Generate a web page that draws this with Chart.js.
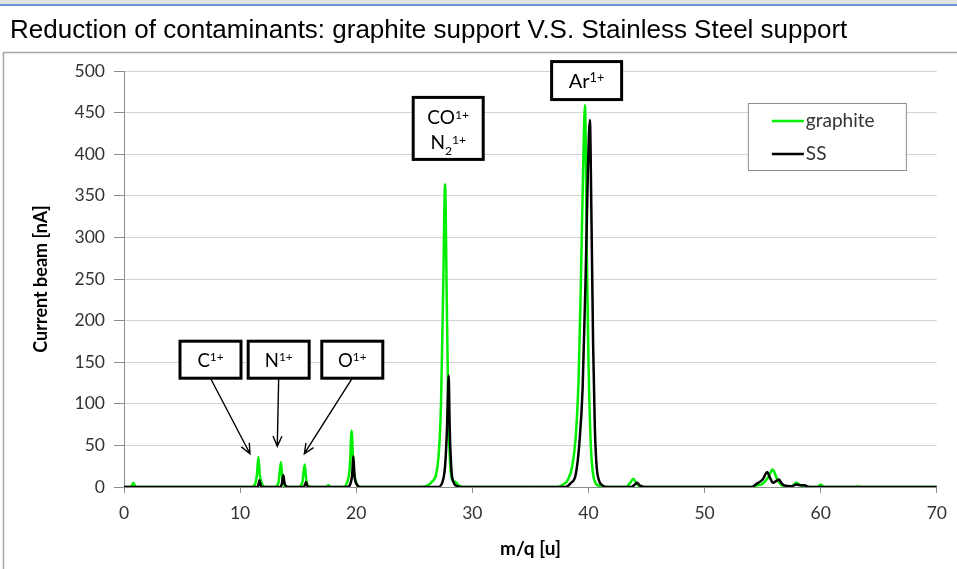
<!DOCTYPE html>
<html>
<head>
<meta charset="utf-8">
<script src="https://cdn.jsdelivr.net/npm/chart.js@4.4.1/dist/chart.umd.min.js"></script>
<style>
  html, body { margin: 0; padding: 0; background: #fff; }
  canvas { display: block; }
</style>
</head>
<body>
<canvas id="spectrumChart" width="957" height="569"></canvas>
<script>
// Spectrum: m/q [u] against current [nA]
const graphiteMz = [
  0, 0.6, 0.8, 1.0,
  11.0, 11.3, 11.45, 11.57, 11.7, 11.9, 12.2,
  13.0, 13.3, 13.52, 13.65, 13.85, 14.2,
  15.0, 15.35, 15.56, 15.7, 15.9, 16.2,
  17.4, 17.6, 17.8,
  18.8, 19.2, 19.45, 19.6, 19.75, 20.0, 20.3,
  25.5, 26.0, 26.5, 27.0, 27.3, 27.5, 27.65, 27.8, 27.95, 28.1, 28.3, 28.55, 28.8, 29.2,
  37.3, 37.8, 38.2, 38.6, 38.9, 39.15, 39.35, 39.55, 39.7, 39.85, 40.0, 40.2, 40.4, 40.6, 41.0, 41.5,
  43.2, 43.6, 43.85, 44.1, 44.5,
  54.0, 54.5, 55.0, 55.5, 55.85, 56.2, 56.5, 56.8, 57.5, 57.9, 58.3, 58.8,
  59.7, 60.0, 60.3, 63.0, 63.2, 63.4, 70
];
const graphiteCurrent = [
  0, 0, 5, 0,
  0, 4, 15, 36, 14, 3, 0,
  0, 5, 30, 8, 1, 0,
  0, 5, 27, 8, 1, 0,
  0, 2, 0,
  0, 5, 25, 68, 25, 5, 0,
  0, 1, 6, 25, 100, 250, 364, 220, 80, 25, 8, 6, 2, 0,
  0, 3, 8, 25, 60, 130, 250, 390, 459, 290, 150, 50, 15, 5, 1, 0,
  0, 5, 10, 5, 0,
  0, 2, 4, 12, 21, 11, 4, 1, 1, 5, 2, 0,
  0, 3, 0, 0, 1, 0, 0
];

const ssMz = [
  0, 11.5, 11.58, 11.66, 11.75, 11.9,
  13.45, 13.6, 13.72, 13.82, 13.95, 14.2,
  15.45, 15.6, 15.68, 15.76, 15.95,
  19.25, 19.5, 19.65, 19.75, 19.85, 20.05, 20.35,
  27.0, 27.4, 27.65, 27.8, 27.96, 28.05, 28.2, 28.4, 28.7, 29.0,
  38.0, 38.5, 38.9, 39.2, 39.5, 39.75, 39.95, 40.12, 40.25, 40.4, 40.55, 40.7, 40.9, 41.2, 41.6,
  43.7, 44.0, 44.2, 44.4, 44.8,
  54.0, 54.5, 55.0, 55.4, 55.6, 55.9, 56.15, 56.4, 56.6, 56.85, 57.5, 57.9, 58.3, 58.6, 59.0, 70
];
const ssCurrent = [
  0, 0, 3, 8, 3, 0,
  0, 4, 14, 5, 1, 0,
  0, 3, 6, 2, 0,
  0, 4, 15, 37, 14, 3, 0,
  0, 5, 25, 65, 134, 70, 20, 5, 1, 0,
  0, 5, 15, 50, 120, 250, 380, 441, 330, 170, 70, 25, 8, 2, 0,
  0, 3, 5, 2, 0,
  0, 4, 9, 18, 12, 5, 7, 9, 5, 2, 1, 3, 2, 2, 0, 0
];

const seriesLabels = ['graphite', 'SS'];
const seriesColors = ['#00ee00', '#000000'];
const chartTitle = 'Reduction of contaminants: graphite support V.S. Stainless Steel support';

// Ion labels: box centre and arrow tip in data units
const ionBoxes = [
  { lines: [[['C', ''], ['1+', 'sup']]], x: 7.45, y: 153, w: 61, h: 37, size: 18.5, tip: [10.85, 40] },
  { lines: [[['N', ''], ['1+', 'sup']]], x: 13.32, y: 153, w: 61, h: 37, size: 18.5, tip: [13.2, 49] },
  { lines: [[['O', ''], ['1+', 'sup']]], x: 19.66, y: 153, w: 61, h: 37, size: 18.5, tip: [15.53, 40] },
  { lines: [[['CO', ''], ['1+', 'sup']], [['N', ''], ['2', 'sub'], ['1+', 'sup']]], x: 27.92, y: 431, w: 70, h: 62, size: 19 },
  { lines: [[['Ar', ''], ['1+', 'sup']]], x: 39.84, y: 488.5, w: 70, h: 38, size: 20 }
];

function drawRich(ctx, parts, cx, baseline, size) {
  const pieces = parts.map(([t, kind]) => {
    const s = kind ? size * 0.64 : size;
    ctx.font = s + 'px Lato';
    return { t, kind, s, w: ctx.measureText(t).width };
  });
  const total = pieces.reduce((a, p) => a + p.w, 0);
  let x = cx - total / 2;
  pieces.forEach(p => {
    ctx.font = p.s + 'px Lato';
    const dy = p.kind === 'sup' ? -size * 0.3 : p.kind === 'sub' ? size * 0.27 : 0;
    ctx.fillText(p.t, x, baseline + dy);
    x += p.w;
  });
}

function drawArrow(ctx, x1, y1, x2, y2) {
  const ang = Math.atan2(y2 - y1, x2 - x1);
  const len = 11;
  ctx.beginPath();
  ctx.moveTo(x1, y1);
  ctx.lineTo(x2, y2);
  ctx.moveTo(x2 - len * Math.cos(ang - 0.42), y2 - len * Math.sin(ang - 0.42));
  ctx.lineTo(x2, y2);
  ctx.lineTo(x2 - len * Math.cos(ang + 0.42), y2 - len * Math.sin(ang + 0.42));
  ctx.stroke();
}

const decorPlugin = {
  id: 'decor',
  beforeDraw(chart) {
    const ctx = chart.ctx;
    ctx.save();
    ctx.fillStyle = '#e4e4e4';
    ctx.fillRect(0, 0, chart.width, 4);
    ctx.fillStyle = '#6d97d4';
    ctx.fillRect(0, 4, chart.width, 2);
    ctx.fillStyle = '#000';
    ctx.font = '26px "Liberation Sans"';
    ctx.textBaseline = 'alphabetic';
    ctx.fillText(chartTitle, 10, 38);
    ctx.strokeStyle = '#a6a6a6';
    ctx.lineWidth = 1.5;
    ctx.strokeRect(3.5, 52.5, chart.width + 20, chart.height);
    ctx.restore();
  },
  afterDatasetsDraw(chart) {
    const ctx = chart.ctx;
    const xs = chart.scales.x, ys = chart.scales.y;
    const area = chart.chartArea;
    ctx.save();
    ctx.textBaseline = 'alphabetic';
    ionBoxes.forEach(b => {
      const cx = xs.getPixelForValue(b.x), cy = ys.getPixelForValue(b.y);
      const left = cx - b.w / 2, top = cy - b.h / 2;
      if (b.tip) {
        ctx.strokeStyle = '#000';
        ctx.lineWidth = 1.4;
        drawArrow(ctx, cx, top + b.h, xs.getPixelForValue(b.tip[0]), ys.getPixelForValue(b.tip[1]));
      }
      ctx.fillStyle = '#fff';
      ctx.fillRect(left, top, b.w, b.h);
      ctx.strokeStyle = '#000';
      ctx.lineWidth = 3;
      ctx.strokeRect(left, top, b.w, b.h);
      ctx.fillStyle = '#000';
      if (b.lines.length === 1) {
        drawRich(ctx, b.lines[0], cx, cy + b.size * 0.38, b.size);
      } else {
        drawRich(ctx, b.lines[0], cx, cy - 4, b.size);
        drawRich(ctx, b.lines[1], cx, cy + 21, b.size);
      }
    });

    // legend box inside the plot
    const lx = area.right - 189, ly = area.top + 32, lw = 158, lh = 67;
    ctx.fillStyle = '#fff';
    ctx.fillRect(lx, ly, lw, lh);
    ctx.strokeStyle = '#8c8c8c';
    ctx.lineWidth = 1;
    ctx.strokeRect(lx + 0.5, ly + 0.5, lw, lh);
    ctx.font = '19px Lato';
    ctx.textBaseline = 'middle';
    chart.data.datasets.forEach((ds, i) => {
      const y = ly + 18 + i * 33;
      ctx.strokeStyle = ds.borderColor;
      ctx.lineWidth = 2.5;
      ctx.beginPath();
      ctx.moveTo(lx + 24, y);
      ctx.lineTo(lx + 56, y);
      ctx.stroke();
      ctx.fillStyle = '#333';
      ctx.fillText(ds.label, lx + 58, y);
    });
    ctx.restore();
  }
};

const toPoints = (xs, ys) => xs.map((x, i) => ({ x, y: ys[i] }));

new Chart(document.getElementById('spectrumChart').getContext('2d'), {
  type: 'line',
  data: {
    datasets: [
      {
        label: seriesLabels[0],
        data: toPoints(graphiteMz, graphiteCurrent),
        borderColor: seriesColors[0],
        borderWidth: 2.5,
        pointRadius: 0,
        cubicInterpolationMode: 'monotone',
        order: 2
      },
      {
        label: seriesLabels[1],
        data: toPoints(ssMz, ssCurrent),
        borderColor: seriesColors[1],
        borderWidth: 2.5,
        pointRadius: 0,
        cubicInterpolationMode: 'monotone',
        order: 1
      }
    ]
  },
  options: {
    responsive: false,
    animation: false,
    devicePixelRatio: 1,
    layout: { padding: { top: 71, right: 20, left: 0, bottom: 0 } },
    plugins: {
      legend: { display: false },
      tooltip: { enabled: false }
    },
    scales: {
      x: {
        type: 'linear',
        min: 0,
        max: 70,
        ticks: { stepSize: 10, padding: 10, color: '#333', font: { family: 'Lato', size: 17.5 } },
        grid: { drawOnChartArea: false, tickLength: 6, color: '#8c8c8c' },
        border: { color: '#8c8c8c' },
        title: {
          display: true,
          text: 'm/q [u]',
          color: '#000',
          font: { family: 'Lato', size: 19, weight: 'bold' },
          padding: { top: 0, bottom: 9 }
        },
        afterFit: s => { s.height = 82; }
      },
      y: {
        min: 0,
        max: 500,
        ticks: { stepSize: 50, padding: 9, color: '#333', font: { family: 'Lato', size: 17.5 } },
        grid: { color: '#d4d4d4', tickColor: '#8c8c8c', tickLength: 10 },
        border: { color: '#8c8c8c' },
        title: {
          display: true,
          text: 'Current beam [nA]',
          color: '#000',
          font: { family: 'Lato', size: 18, weight: 'bold' },
          padding: { top: 30, bottom: 0 }
        },
        afterFit: s => { s.width = 124; }
      }
    }
  },
  plugins: [decorPlugin]
});
</script>
</body>
</html>
